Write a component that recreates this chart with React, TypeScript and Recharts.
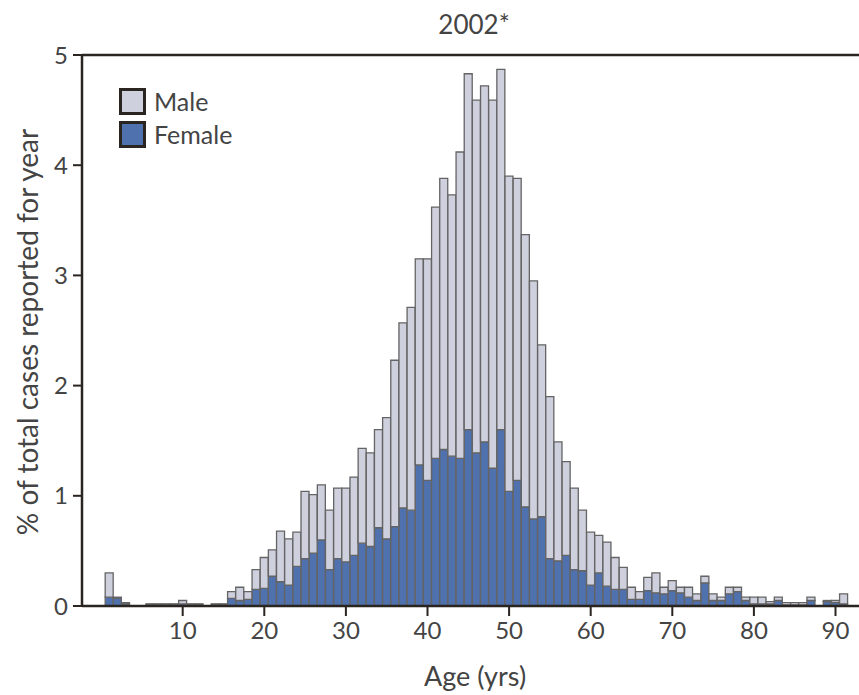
import { BarChart, Bar, XAxis, YAxis, ReferenceLine } from 'recharts';

const ages = Array.from({ length: 91 }, (_, i) => i + 1);

const femaleShare = [
  0.08, 0.07, 0.02, 0, 0, 0.01, 0.01, 0.01, 0.01, 0.02,
  0.01, 0.01, 0, 0.01, 0.01, 0.07, 0.05, 0.06, 0.15, 0.16,
  0.27, 0.22, 0.19, 0.36, 0.43, 0.48, 0.6, 0.33, 0.43, 0.4,
  0.46, 0.57, 0.54, 0.71, 0.61, 0.72, 0.89, 0.87, 1.28, 1.14,
  1.34, 1.42, 1.36, 1.34, 1.6, 1.39, 1.49, 1.25, 1.6, 1.04,
  1.14, 0.9, 0.79, 0.81, 0.43, 0.41, 0.46, 0.33, 0.32, 0.19,
  0.3, 0.18, 0.15, 0.15, 0.06, 0.06, 0.14, 0.12, 0.11, 0.14,
  0.12, 0.08, 0.05, 0.21, 0.05, 0.05, 0.11, 0.13, 0.05, 0.02,
  0.02, 0.02, 0.05, 0.01, 0.01, 0.01, 0.05, 0, 0.04, 0.03,
  0.02,
];

const maleShare = [
  0.22, 0.01, 0.01, 0, 0, 0.01, 0.01, 0.01, 0.01, 0.03,
  0.01, 0.01, 0, 0.01, 0.01, 0.06, 0.12, 0.07, 0.18, 0.28,
  0.24, 0.46, 0.42, 0.31, 0.61, 0.53, 0.5, 0.54, 0.64, 0.67,
  0.71, 0.86, 0.85, 0.89, 1.1, 1.51, 1.68, 1.84, 1.87, 2.01,
  2.28, 2.46, 2.37, 2.78, 3.23, 3.2, 3.23, 3.34, 3.27, 2.86,
  2.74, 2.47, 2.16, 1.56, 1.47, 1.08, 0.85, 0.74, 0.55, 0.48,
  0.34, 0.4, 0.29, 0.2, 0.11, 0.07, 0.12, 0.18, 0.06, 0.09,
  0.05, 0.09, 0.06, 0.06, 0.06, 0.03, 0.06, 0.04, 0.03, 0.06,
  0.06, 0.02, 0.03, 0.02, 0.02, 0.02, 0.03, 0, 0.01, 0.02,
  0.09,
];

const xTicks = [10, 20, 30, 40, 50, 60, 70, 80, 90];
const yTicks = [0, 1, 2, 3, 4, 5];

const data = ages.map((age, i) => ({ age, female: femaleShare[i], male: maleShare[i] }));

const FONT = 'Lato, "Open Sans", sans-serif';
const INK = '#2b2522';
const TEXT = '#444';
const MALE = '#cfd0de';
const FEMALE = '#4f71ae';
const EDGE = '#646464';

export default function App() {
  return (
    <div
      style={{
        position: 'absolute',
        left: 0,
        top: 0,
        width: 859,
        height: 695,
        overflow: 'hidden',
        background: '#fff',
        fontFamily: FONT,
      }}
    >
      <BarChart
        width={880}
        height={695}
        data={data}
        margin={{ top: 55, right: 5, bottom: 49, left: 0 }}
        barCategoryGap={0}
        barGap={0}
      >
        <XAxis
          dataKey="age"
          type="number"
          domain={[-2.34, 94.84]}
          ticks={xTicks}
          allowDataOverflow
          height={40}
          tickSize={10}
          tickMargin={6}
          axisLine={{ stroke: INK, strokeWidth: 2.5 }}
          tickLine={{ stroke: INK, strokeWidth: 2 }}
          tick={{ fill: TEXT, fontSize: 24, fontFamily: FONT }}
        />
        <YAxis
          domain={[0, 5]}
          ticks={yTicks}
          width={82}
          tickSize={9}
          tickMargin={5}
          axisLine={{ stroke: INK, strokeWidth: 2.5 }}
          tickLine={{ stroke: INK, strokeWidth: 2 }}
          tick={{ fill: TEXT, fontSize: 24, fontFamily: FONT }}
        />
        <ReferenceLine y={5} stroke={INK} strokeWidth={2.5} />
        <Bar
          dataKey="female"
          stackId="s"
          fill={FEMALE}
          stroke={EDGE}
          strokeWidth={1.3}
          isAnimationActive={false}
        />
        <Bar
          dataKey="male"
          stackId="s"
          fill={MALE}
          stroke={EDGE}
          strokeWidth={1.3}
          isAnimationActive={false}
        />
      </BarChart>

      <div
        style={{
          position: 'absolute',
          left: 374,
          width: 200,
          top: 8,
          textAlign: 'center',
          fontSize: 26,
          lineHeight: '32px',
          color: TEXT,
        }}
      >
        2002*
      </div>

      <div
        style={{
          position: 'absolute',
          left: 375,
          width: 200,
          top: 660,
          textAlign: 'center',
          fontSize: 27,
          lineHeight: '32px',
          color: TEXT,
        }}
      >
        Age (yrs)
      </div>

      <div
        style={{
          position: 'absolute',
          left: 27,
          top: 332,
          transform: 'translate(-50%, -50%) rotate(-90deg)',
          whiteSpace: 'nowrap',
          fontSize: 28,
          lineHeight: '34px',
          color: TEXT,
        }}
      >
        % of total cases reported for year
      </div>

      {[
        { name: 'Male', color: MALE, top: 86 },
        { name: 'Female', color: FEMALE, top: 119 },
      ].map((item) => (
        <div
          key={item.name}
          style={{
            position: 'absolute',
            left: 119,
            top: item.top,
            display: 'flex',
            alignItems: 'center',
            fontSize: 25,
            lineHeight: '30px',
            color: TEXT,
          }}
        >
          <span
            style={{
              width: 21,
              height: 21,
              background: item.color,
              border: `3px solid ${INK}`,
              marginRight: 8,
            }}
          />
          {item.name}
        </div>
      ))}
    </div>
  );
}
